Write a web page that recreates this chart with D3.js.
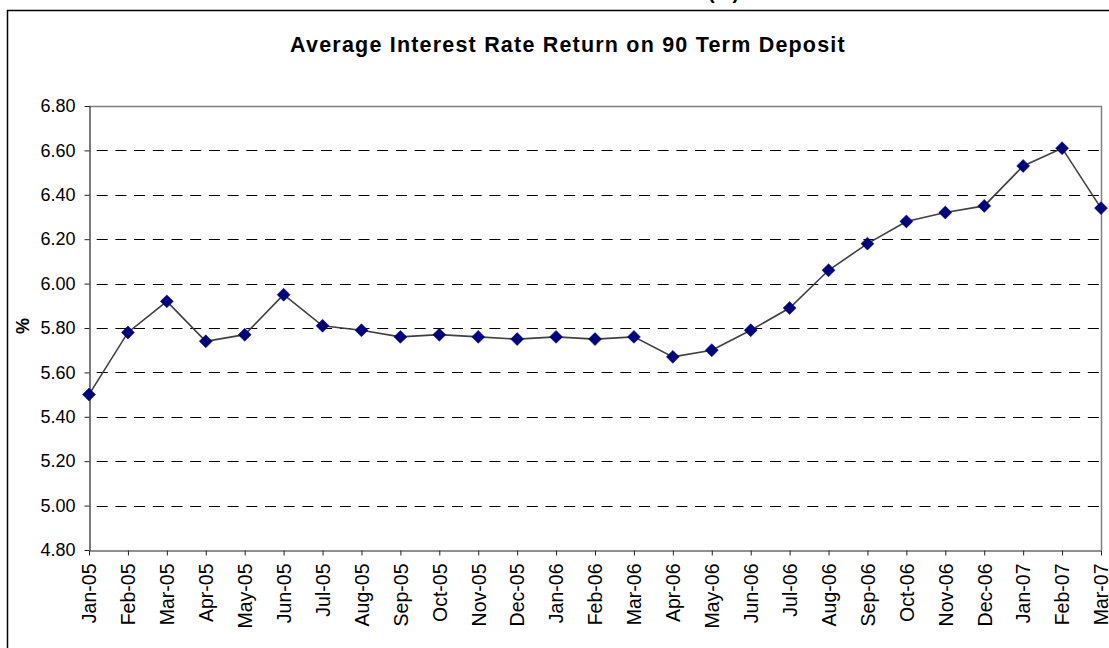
<!DOCTYPE html>
<html>
<head>
<meta charset="utf-8">
<script src="https://cdn.jsdelivr.net/npm/d3@7"></script>
<style>
  html, body { margin: 0; padding: 0; background: #fff; }
  svg { display: block; }
  text { font-family: Arial, "Liberation Sans", sans-serif; }
</style>
</head>
<body>
<script>
const categories = ["Jan-05","Feb-05","Mar-05","Apr-05","May-05","Jun-05","Jul-05","Aug-05","Sep-05","Oct-05","Nov-05","Dec-05",
  "Jan-06","Feb-06","Mar-06","Apr-06","May-06","Jun-06","Jul-06","Aug-06","Sep-06","Oct-06","Nov-06","Dec-06",
  "Jan-07","Feb-07","Mar-07"];
const rates = [5.50,5.78,5.92,5.74,5.77,5.95,5.81,5.79,5.76,5.77,5.76,5.75,
  5.76,5.75,5.76,5.67,5.70,5.79,5.89,6.06,6.18,6.28,6.32,6.35,
  6.53,6.61,6.34];
const yTicks = [4.8,5.0,5.2,5.4,5.6,5.8,6.0,6.2,6.4,6.6,6.8];
const chartTitle = "Average Interest Rate Return on 90 Term Deposit";
const yLabel = "%";

const W = 1109, H = 648;
const plot = {left: 89, right: 1101, top: 106, bottom: 550};

const svg = d3.select("body").append("svg").attr("width", W).attr("height", H);

// outer frame
svg.append("rect").attr("x", 7.5).attr("y", 10.5).attr("width", 1120).attr("height", 700)
  .attr("fill", "#fff").attr("stroke", "#000").attr("stroke-width", 1.5);

// cut-off heading text above the frame
svg.append("text").attr("x", 708).attr("y", -1).attr("font-size", 20).attr("font-weight", "bold")
  .attr("fill", "#000").text("(%)");

const x = d3.scalePoint().domain(categories).range([plot.left, plot.right]);
const y = d3.scaleLinear().domain([4.8, 6.8]).range([plot.bottom, plot.top]);

// title
svg.append("text").attr("x", 568).attr("y", 52).attr("text-anchor", "middle")
  .attr("font-size", 21.5).attr("font-weight", "bold").attr("letter-spacing", 1.2)
  .attr("fill", "#000").text(chartTitle);

// gridlines
svg.append("g").selectAll("line").data(yTicks.filter(t => t > 4.81 && t < 6.79)).join("line")
  .attr("x1", plot.left).attr("x2", plot.right)
  .attr("y1", d => Math.round(y(d)) + 0.5).attr("y2", d => Math.round(y(d)) + 0.5)
  .attr("stroke", "#000").attr("stroke-width", 1)
  .attr("stroke-dasharray", "11,7.7").attr("stroke-dashoffset", 11);

// top & right plot border (gray)
svg.append("path")
  .attr("d", `M${plot.left},${plot.top + 0.5}H${plot.right + 0.5}V${plot.bottom}`)
  .attr("fill", "none").attr("stroke", "#808080").attr("stroke-width", 1.5);

// y axis
const yAxis = svg.append("g").attr("transform", `translate(${plot.left + 0.5},0)`)
  .call(d3.axisLeft(y).tickValues(yTicks).tickFormat(d3.format(".2f")).tickSizeInner(5).tickSizeOuter(0).tickPadding(9));
yAxis.select(".domain").attr("stroke", "#222").attr("stroke-width", 1.2);
yAxis.selectAll(".tick line").attr("stroke", "#222");
yAxis.selectAll("text").attr("font-size", 18).attr("fill", "#000")
  .attr("font-family", "Arial, 'Liberation Sans', sans-serif");

// x axis
const xAxis = svg.append("g").attr("transform", `translate(0,${plot.bottom + 0.5})`)
  .call(d3.axisBottom(x).tickSizeInner(5).tickSizeOuter(0).tickPadding(0));
xAxis.select(".domain").attr("stroke", "#222").attr("stroke-width", 1.2);
xAxis.selectAll(".tick line").attr("stroke", "#222");
xAxis.selectAll("text")
  .attr("font-size", 19.5).attr("fill", "#000")
  .attr("font-family", "Arial, 'Liberation Sans', sans-serif")
  .attr("text-anchor", "end")
  .attr("dy", "0.35em")
  .attr("transform", "translate(0,13) rotate(-90)")
  .attr("x", 0).attr("y", 0);

// y label
svg.append("text").attr("transform", `translate(29,326) rotate(-90)`)
  .attr("text-anchor", "middle").attr("font-size", 18).attr("font-weight", "bold")
  .attr("fill", "#000").text(yLabel);

// line
const line = d3.line().x((d, i) => x(categories[i])).y(d => y(d));
svg.append("path").datum(rates).attr("d", line)
  .attr("fill", "none").attr("stroke", "#404040").attr("stroke-width", 1.6);

// markers
const sym = d3.symbol().type(d3.symbolSquare).size(84);
svg.append("g").selectAll("path").data(rates).join("path")
  .attr("d", sym)
  .attr("transform", (d, i) => `translate(${x(categories[i])},${y(d)}) rotate(45)`)
  .attr("fill", "#000080").attr("stroke", "#000080").attr("stroke-width", 0.5);
</script>
</body>
</html>
